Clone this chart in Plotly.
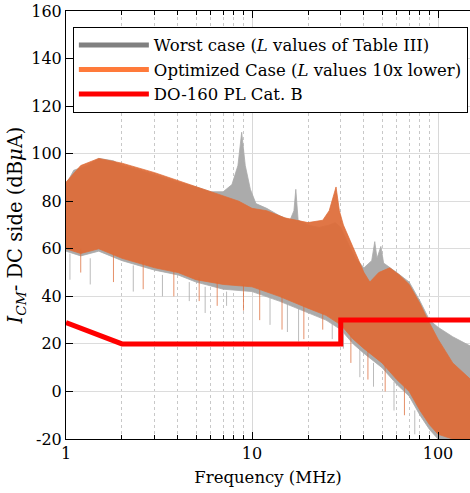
import plotly.graph_objects as go

# ---------------- data ----------------
# Worst case spectrum envelope (MHz, dBuA)
wc_freq = [1.0, 1.1, 1.3, 1.5, 1.8, 2.0, 2.5, 3.0, 4.0, 5.0, 6.0, 7.0, 7.8, 8.4, 8.8, 9.2, 9.8,
           10.5, 12, 14, 16, 16.8, 17.2, 17.7, 20, 23, 26, 28, 30, 33, 36, 40, 44, 45.7, 47,
           49.3, 51, 60, 70, 80, 90, 100, 120, 150]
wc_upper = [87, 93, 95, 98, 97, 95, 93, 91, 88, 86, 84, 84, 87, 95, 109, 95, 85,
            79, 77, 74, 72, 76, 85, 72, 70, 69, 70, 71, 69, 62, 56, 52, 55, 63, 56,
            61, 54, 50, 46, 38, 30, 27, 23, 19]
wc_lo_freq = [1.0, 1.2, 1.5, 2.0, 3.0, 4.0, 5.0, 7.0, 10, 14, 20, 25, 30, 35, 40, 50, 60, 70,
              80, 90, 100, 120, 150]
wc_lower = [59, 57, 59, 55, 51, 49, 46, 43, 42, 38, 33, 30, 26, 20, 16, 10, 3, -2,
            -10, -16, -20, -20, -20]

# Optimized case spectrum envelope
op_freq = [1.0, 1.2, 1.5, 2.0, 3.0, 5.0, 7.0, 8.5, 10, 12, 15, 20, 24, 26, 28.3, 29.5, 31, 33,
           36, 40, 43, 48, 55, 62, 70, 80, 87, 100, 120, 150]
op_upper = [88, 95, 98, 96, 92, 86, 82, 80, 77, 76, 73, 71, 72, 76, 86, 76, 70, 65,
            58, 50, 46, 50, 52, 49, 45, 37, 31, 22, 12, 5]
op_lo_freq = [1.0, 1.2, 1.5, 2.0, 3.0, 4.0, 5.0, 7.0, 10, 14, 20, 25, 30, 35, 40, 50, 60, 70,
              80, 90, 100, 120, 150]
op_lower = [60, 58, 60, 56, 52, 50, 47, 45, 44, 40, 35, 32, 28, 22, 18, 12, 5, 0,
            -8, -14, -18, -20, -20]

# Deep single-bin dips (MHz, top, bottom)
wc_dip_freq = [1.05, 1.35, 2.3, 3.3, 4.6, 5.6, 7.3, 12.5, 15.5, 17.8, 27, 31, 38, 45, 58, 75]
wc_dip_top = [58, 56, 53, 49, 46, 44, 42, 40, 38, 36, 30, 26, 18, 12, 4, -8]
wc_dip_bot = [47, 45, 42, 40, 38, 33, 36, 28, 25, 21, 22, 18, 6, 2, -8, -18]
op_dip_freq = [1.2, 1.8, 2.6, 3.8, 5.2, 6.5, 9.0, 11, 14.5, 19, 24, 34, 42, 52, 66]
op_dip_top = [60, 58, 55, 51, 48, 46, 45, 43, 40, 36, 33, 24, 17, 11, 2]
op_dip_bot = [50, 46, 43, 40, 38, 36, 34, 30, 26, 22, 26, 12, 5, 0, -10]

# Limit line DO-160 PL Cat. B
lim_freq = [1, 2, 30, 30, 150]
lim_val = [29, 20, 20, 30, 30]

x_ticks = [1, 10, 100]
x_ticktext = ["1", "10", "100"]
x_minor = [2, 3, 4, 5, 6, 7, 8, 9, 20, 30, 40, 50, 60, 70, 80, 90]
y_ticks = [-20, 0, 20, 40, 60, 80, 100, 120, 140, 160]
y_ticktext = ["-20", "0", "20", "40", "60", "80", "100", "120", "140", "160"]

GREY_FILL = "#ABABAB"
ORANGE_FILL = "rgba(222,108,56,0.93)"

fig = go.Figure()


def band(freq_u, up, freq_l, lo, color, dipf, dipt, dipb):
    xs = list(freq_u) + list(freq_l)[::-1]
    ys = list(up) + list(lo)[::-1]
    fig.add_trace(go.Scatter(x=xs, y=ys, fill="toself", fillcolor=color, mode="lines",
                             line=dict(width=0.8, color=color), showlegend=False,
                             hoverinfo="skip"))
    dx, dy = [], []
    for f, t, b in zip(dipf, dipt, dipb):
        dx += [f, f, None]
        dy += [t, b, None]
    fig.add_trace(go.Scatter(x=dx, y=dy, mode="lines", line=dict(width=1, color=color),
                             opacity=0.8, showlegend=False, hoverinfo="skip"))


band(wc_freq, wc_upper, wc_lo_freq, wc_lower, GREY_FILL, wc_dip_freq, wc_dip_top, wc_dip_bot)
band(op_freq, op_upper, op_lo_freq, op_lower, ORANGE_FILL, op_dip_freq, op_dip_top, op_dip_bot)

fig.add_trace(go.Scatter(x=lim_freq, y=lim_val, mode="lines",
                         line=dict(color="#FF0000", width=5), showlegend=False))

# legend entries
fig.add_trace(go.Scatter(x=[None], y=[None], mode="lines", line=dict(color="#808080", width=5),
                         name="Worst case (<i>L</i> values of Table III)"))
fig.add_trace(go.Scatter(x=[None], y=[None], mode="lines", line=dict(color="#FF7A3A", width=5),
                         name="Optimized Case (<i>L</i> values 10x lower)"))
fig.add_trace(go.Scatter(x=[None], y=[None], mode="lines", line=dict(color="#FF0000", width=5),
                         name="DO-160 PL Cat. B"))

FONT = "DejaVu Serif"
fig.update_layout(
    width=470, height=493,
    margin=dict(l=66, r=0, t=11, b=54),
    paper_bgcolor="white", plot_bgcolor="white",
    font=dict(family=FONT, size=16, color="black"),
    legend=dict(x=0.017, y=0.963, xanchor="left", yanchor="top",
                bordercolor="black", borderwidth=1, bgcolor="white",
                font=dict(family=FONT, size=16.5), itemwidth=70,
                tracegroupgap=0),
    xaxis=dict(type="log", range=[0, 2.172], tickvals=x_ticks, ticktext=x_ticktext,
               ticks="inside", ticklen=7, tickcolor="black", showline=True,
               linecolor="black", linewidth=1, mirror="ticks",
               showgrid=True, gridcolor="#D8D8D8", gridwidth=1,
               minor=dict(tickvals=x_minor, ticks="inside", ticklen=4, tickcolor="black",
                          showgrid=True, gridcolor="#C8C8C8", griddash="dot"),
               title=dict(text="Frequency (MHz)", font=dict(family=FONT, size=16.5), standoff=9),
               tickfont=dict(family=FONT, size=16), zeroline=False),
    yaxis=dict(range=[-20, 160], tickvals=y_ticks, ticktext=y_ticktext,
               ticks="inside", ticklen=7, tickcolor="black", showline=True,
               linecolor="black", linewidth=1, mirror=False,
               showgrid=True, gridcolor="#DCDCDC", gridwidth=1,
               title=dict(text="<i>I</i><sub><i>CM</i></sub>- DC side (dB<i>μ</i>A)",
                          font=dict(family=FONT, size=19.5), standoff=3),
               tickfont=dict(family=FONT, size=16), zeroline=False),
)

fig.write_html("out.html")
